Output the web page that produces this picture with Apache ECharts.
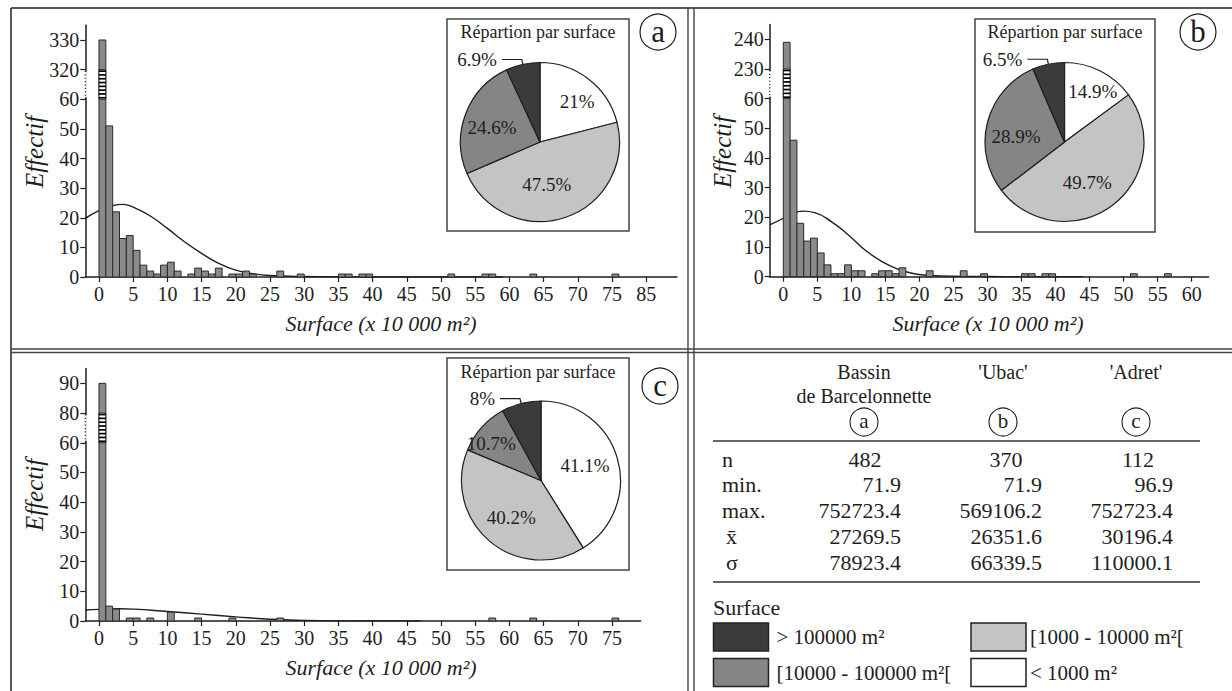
<!DOCTYPE html>
<html><head><meta charset="utf-8">
<script src="https://cdn.jsdelivr.net/npm/echarts@6/dist/echarts.min.js"></script>
<style>html,body{margin:0;padding:0;background:#fff}#c{width:1232px;height:691px}</style>
</head><body><div id="c"></div>
<script>
// ================= DATA =================
// histogram bins: start of 1-unit bin (x 10 000 m2) and count
const histA_bin   = [0,1,2,3,4,5,6,7,8,9,10,11,13,14,15,16,17,19,20,21,22,26,29,35,36,38,39,51,56,57,63,75];
const histA_count = [330,51,22,13,14,9,4,2,1,4,5,2,1,3,2,1,3,1,1,2,1,2,1,1,1,1,1,1,1,1,1,1];
const histB_bin   = [0,1,2,3,4,5,6,7,8,9,10,11,13,14,15,16,17,21,26,29,35,36,38,39,51,56];
const histB_count = [239,46,18,12,13,8,4,1,1,4,2,2,1,2,2,1,3,2,2,1,1,1,1,1,1,1];
const histC_bin   = [0,1,2,4,5,7,10,14,19,26,57,63,75];
const histC_count = [90,5,4,1,1,1,3,1,1,1,1,1,1];

// fitted curves
const curveA_x = [-2,0,2,3.5,5,7.5,10,12.5,15,17.5,20,22.5,25,30,35,45,59];
const curveA_y = [19.8,22.4,24.1,24.5,23.6,20.6,16.4,11.9,8.0,4.6,2.3,1.1,0.5,0.15,0.05,0,0];
const curveB_x = [-2,0,1.2,2.9,4.6,7.1,9.6,12,14.5,16.9,19.4,21.8,25,30,35,44];
const curveB_y = [17.5,19.7,21.3,22.1,21.6,18.5,14,9,5.1,2.5,0.9,0.4,0.15,0.05,0,0];
const curveC_x = [-2,0,3,5,10,15,20,25,30,35,47];
const curveC_y = [3.7,3.9,4.1,4.0,3.2,2.3,1.4,0.6,0.2,0.05,0];

// axis ticks and labels
const yTicks   = [0,10,20,30,40,50,60,70,80];
const yLabelsA = ['0','10','20','30','40','50','60','320','330'];
const yLabelsB = ['0','10','20','30','40','50','60','230','240'];
const yLabelsC = ['0','10','20','30','40','50','60','80','90'];
const xTicksA  = [0,5,10,15,20,25,30,35,40,45,50,55,60,65,70,75,80];
const xLabelsA = ['0','5','10','15','20','25','30','35','40','45','50','55','60','65','70','75','85'];
const xTicksB  = [0,5,10,15,20,25,30,35,40,45,50,55,60];
const xLabelsB = ['0','5','10','15','20','25','30','35','40','45','50','55','60'];
const xTicksC  = [0,5,10,15,20,25,30,35,40,45,50,55,60,65,70,75];
const xLabelsC = ['0','5','10','15','20','25','30','35','40','45','50','55','60','65','70','75'];

// pies: order  < 1000, [1000-10000[, [10000-100000[, > 100000
const classNames = ['< 1000 m²','[1000 - 10000 m²[','[10000 - 100000 m²[','> 100000 m²'];
const pieA = [21, 47.5, 24.6, 6.9];
const pieB = [14.9, 49.7, 28.9, 6.5];
const pieC = [41.1, 40.2, 10.7, 8];

// table
const tableHeaders = [['Bassin','de Barcelonnette'], ["'Ubac'"], ["'Adret'"]];
const tableLetters = ['a','b','c'];
const rowLabels = ['n','min.','max.','x̄','σ'];
const statsA = ['482','71.9','752723.4','27269.5','78923.4'];
const statsB = ['370','71.9','569106.2','26351.6','66339.5'];
const statsC = ['112','96.9','752723.4','30196.4','110000.1'];
const legendTitle = 'Surface';
const legendLabels = ['> 100000 m²','[1000 - 10000 m²[','[10000 - 100000 m²[','< 1000 m²'];
const legendClassIdx = [3,1,2,0];
const pieTitle = 'Répartion par surface';
const xTitle = 'Surface (x 10 000 m²)';
const yTitle = 'Effectif';

// ================= STYLE =================
const SERIF = 'Liberation Serif';
const INK = '#1e1e1e';
const BAR_FILL = '#8a8a8a';
const classColors = ['#ffffff','#c4c4c4','#858585','#3b3b3b'];
const BREAK_LO = 60;

const chart = echarts.init(document.getElementById('c'), null, {renderer:'svg', width:1232, height:691});

function shiftOf(labels){ return Number(labels[7]) - 70; }

function histSeries(idx, bins, counts, ylabels){
  const shift = shiftOf(ylabels);
  return {
    type:'custom', xAxisIndex:idx, yAxisIndex:idx, z:3, silent:true, animation:false,
    data: bins.map((b,i)=>[b, counts[i] > BREAK_LO ? counts[i]-shift : counts[i]]),
    renderItem(params, api){
      const x0 = api.value(0), v = api.value(1);
      const p0 = api.coord([x0,0]), p1 = api.coord([x0+1, v]);
      const w = p1[0]-p0[0];
      const ch = [{type:'rect', shape:{x:p0[0], y:p1[1], width:w, height:p0[1]-p1[1]},
        style:{fill:BAR_FILL, stroke:'#2a2a2a', lineWidth:1}}];
      if (v > BREAK_LO){
        const lo = api.coord([x0, BREAK_LO])[1], hi = api.coord([x0, BREAK_LO+10])[1];
        ch.push({type:'rect', shape:{x:p0[0], y:hi, width:w, height:lo-hi}, style:{fill:'#fff', stroke:'#2a2a2a', lineWidth:1}});
        for (let k=0;k<8;k++){
          const yy = lo - 1.5 - (lo-hi-3)*k/7;
          ch.push({type:'line', shape:{x1:p0[0], y1:yy, x2:p0[0]+w, y2:yy}, style:{stroke:'#000', lineWidth:1.7}});
        }
        const cs = params.coordSys;
        ch.push({type:'line', shape:{x1:cs.x, y1:lo-2, x2:cs.x, y2:hi+2}, style:{stroke:'#fff', lineWidth:3}});
        ch.push({type:'line', shape:{x1:cs.x, y1:lo, x2:cs.x, y2:hi}, style:{stroke:INK, lineWidth:1.2, lineDash:[1.2,2.2]}});
      }
      return {type:'group', children:ch};
    }
  };
}

function curveSeries(idx, xs, ys){
  return {type:'line', xAxisIndex:idx, yAxisIndex:idx, z:2, silent:true, animation:false,
    smooth:0.5, showSymbol:false, symbol:'none',
    lineStyle:{color:INK, width:1.4},
    data: xs.map((x,i)=>[x, ys[i]])};
}

function pieSeries(center, values, nudges){
  return {
    type:'pie', center, radius:79.5, startAngle:90, clockwise:true, z:5, silent:true, animation:false,
    avoidLabelOverlap:false,
    itemStyle:{borderColor:INK, borderWidth:1.2},
    label:{show:true, fontFamily:SERIF, fontSize:19, color:INK, formatter:p=>p.value+'%'},
    labelLine:{show:false, length:5, length2:20, smooth:false, lineStyle:{color:INK, width:1.2}},
    labelLayout: p => ({dx:nudges[p.dataIndex][0], dy:nudges[p.dataIndex][1]}),
    data: values.map((v,i)=>({
      name:classNames[i], value:v, itemStyle:{color:classColors[i]},
      label:{position: i===3 ? 'outside':'inner'},
      labelLine:{show: i===3}
    }))
  };
}

function xAxisCfg(idx, min, max, ticks, labels){
  return {type:'value', gridIndex:idx, min, max,
    axisLine:{onZero:false, lineStyle:{color:INK, width:1.5}},
    axisTick:{show:true, length:5, customValues:ticks, lineStyle:{color:INK, width:1.2}},
    axisLabel:{customValues:ticks, margin:7, fontFamily:SERIF, fontSize:20, color:INK,
      formatter:v=>labels[ticks.indexOf(v)]},
    splitLine:{show:false}};
}
function yAxisCfg(idx, labels){
  return {type:'value', gridIndex:idx, min:0, max:85,
    axisLine:{show:true, onZero:false, lineStyle:{color:INK, width:1.5}},
    axisTick:{show:true, length:5, customValues:yTicks, lineStyle:{color:INK, width:1.2}},
    axisLabel:{customValues:yTicks, margin:6, fontFamily:SERIF, fontSize:20, color:INK,
      formatter:v=>labels[yTicks.indexOf(v)]},
    splitLine:{show:false}};
}

// ---------- graphic ----------
const G = [];
function line(x1,y1,x2,y2,c,w){ G.push({type:'line', silent:true, shape:{x1,y1,x2,y2}, style:{stroke:c||INK, lineWidth:w||1.5}}); }
function text(x,y,t,size,opt){
  opt = opt || {};
  G.push({type:'text', silent:true, x, y, rotation:opt.rot||0,
    style:{text:t, fontFamily:SERIF, fontSize:size, fontStyle:opt.italic?'italic':'normal', fill:INK,
      align:opt.align||'center', verticalAlign:'middle',
      textAlign:opt.align||'center', textVerticalAlign:'middle', lineHeight:size}});
}
function circleLetter(cx,cy,r,t,size){
  G.push({type:'circle', silent:true, shape:{cx,cy,r}, style:{fill:'#fff', stroke:INK, lineWidth:1.2}});
  text(cx, cy-1, t, size);
}
// frames
line(11,8,1232,8,'#222',1.5);
line(11,8,11,691,'#222',1.5);
line(688,8,688,691,'#333',1.3);
line(694,8,694,691,'#333',1.3);
line(11,349,1232,349,'#444',1.3);
line(11,352.5,1232,352.5,'#444',1.3);
// inset boxes
function inset(x,y,w,h,ty){
  G.push({type:'rect', silent:true, z:-1, shape:{x,y,width:w,height:h}, style:{fill:'#fff', stroke:'#444', lineWidth:1.5}});
  text(x+w/2, ty, pieTitle, 18);
}
inset(447,19,182,212,32);
inset(975,19,180,213,32);
inset(447,358,182,212,372);
circleLetter(658,32,18,'a',31);
circleLetter(1198,32,18,'b',31);
circleLetter(660,386,18,'c',31);
// axis titles
text(381,323,xTitle,22,{italic:true});
text(988,323,xTitle,22,{italic:true});
text(381,667,xTitle,22,{italic:true});
text(34,152,yTitle,25,{italic:true, rot:Math.PI/2});
text(722,152,yTitle,25,{italic:true, rot:Math.PI/2});
text(34,495,yTitle,25,{italic:true, rot:Math.PI/2});
// table
const colCenter = [864,1003,1136];
const colNCenter = [865,1006,1138];
const colRight = [901,1042,1173];
tableHeaders.forEach((h,i)=>{
  h.forEach((ln,k)=>{ text(colCenter[i], 372 + k*23.5, ln, 20); });
});
tableLetters.forEach((l,i)=>{
  G.push({type:'circle', silent:true, shape:{cx:colCenter[i],cy:422,r:14}, style:{fill:'#fff', stroke:INK, lineWidth:1.1}});
  text(colCenter[i], 421, l, 21);
});
line(713,441,1200,441,'#333',1.5);
line(713,582,1200,582,'#333',1.5);
const rowY = [459,484.5,510.5,536.5,562.5];
const stats = [statsA, statsB, statsC];
rowLabels.forEach((r,j)=>{
  text(j>=3?726:722, rowY[j], r, 22, {align:'left'});
  stats.forEach((s,i)=>{
    if (j===0) text(colNCenter[i], rowY[j], s[j], 22);
    else text(colRight[i], rowY[j], s[j], 22, {align:'right'});
  });
});
// legend
text(713,607,legendTitle,22,{align:'left'});
const swX = [713.5, 971], swY = [623, 658.5];
legendLabels.forEach((lab,k)=>{
  const cx = k%2, cy = Math.floor(k/2);
  G.push({type:'rect', silent:true, shape:{x:swX[cx], y:swY[cy], width:55, height:28},
    style:{fill:classColors[legendClassIdx[k]], stroke:'#222', lineWidth:1.5}});
  text(swX[cx]+ (cx===0?63:59), swY[cy]+14, lab, 21, {align:'left'});
});

const option = {
  animation:false,
  backgroundColor:'#fff',
  grid:[
    {left:85.3, top:25.2, width:591.7, height:251.8},
    {left:769.7, top:24.5, width:439, height:252.2},
    {left:85.3, top:368.5, width:555.4, height:252.5}
  ],
  xAxis:[
    xAxisCfg(0,-2,84.5,xTicksA,xLabelsA),
    xAxisCfg(1,-2,62.5,xTicksB,xLabelsB),
    xAxisCfg(2,-2,79.2,xTicksC,xLabelsC)
  ],
  yAxis:[ yAxisCfg(0,yLabelsA), yAxisCfg(1,yLabelsB), yAxisCfg(2,yLabelsC) ],
  series:[
    curveSeries(0,curveA_x,curveA_y), histSeries(0,histA_bin,histA_count,yLabelsA),
    curveSeries(1,curveB_x,curveB_y), histSeries(1,histB_bin,histB_count,yLabelsB),
    curveSeries(2,curveC_x,curveC_y), histSeries(2,histC_bin,histC_count,yLabelsC),
    pieSeries([540,142], pieA, [[11,-7],[-7,2],[-8,1],[0,0]]),
    pieSeries([1064.5,142], pieB, [[9,-12],[-3,6],[-7,5],[0,0]]),
    pieSeries([541,480.5], pieC, [[3,-3],[-2,4],[-18,-8],[0,0]])
  ],
  graphic:{elements:G}
};
chart.setOption(option);
</script></body></html>
